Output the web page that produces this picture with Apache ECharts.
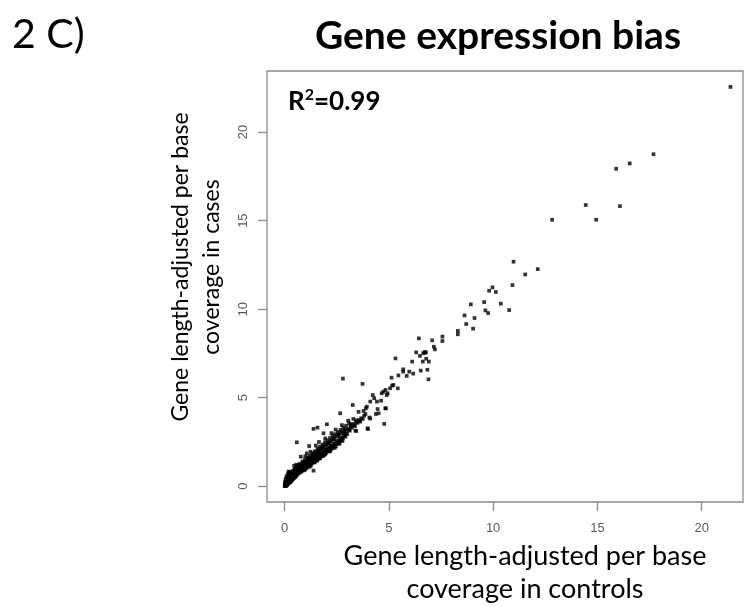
<!DOCTYPE html>
<html>
<head>
<meta charset="utf-8">
<script src="https://cdn.jsdelivr.net/npm/echarts@6/dist/echarts.min.js"></script>
<style>
html,body{margin:0;padding:0;background:#fff;}
#chart{width:744px;height:607px;}
</style>
</head>
<body>
<div id="chart"></div>
<script>
// Tick labels
const xTicks = [0, 5, 10, 15, 20];
const yTicks = [0, 5, 10, 15, 20];

// [coverage in controls, coverage in cases] - dense band near origin
const denseBand = [
[0.01,0.01],[0.02,0.04],[0.04,0.02],[0.03,0.08],[0.06,0.05],[0.08,0.02],[0.05,0.12],[0.07,0.16],[0.09,0.09],[0.02,0.20],
[0.04,0.28],[0.06,0.35],[0.08,0.24],[0.10,0.14],[0.11,0.05],[0.12,0.20],[0.13,0.30],[0.14,0.10],[0.15,0.42],[0.16,0.22],
[0.17,0.15],[0.18,0.34],[0.19,0.52],[0.20,0.26],[0.21,0.18],[0.22,0.38],[0.23,0.62],[0.24,0.30],[0.25,0.22],[0.26,0.46],
[0.27,0.72],[0.28,0.34],[0.29,0.26],[0.30,0.52],[0.31,0.40],[0.32,0.30],[0.33,0.60],[0.34,0.80],[0.35,0.44],[0.36,0.34],
[0.37,0.54],[0.38,0.66],[0.39,0.40],[0.40,0.50],[0.42,0.62],[0.43,0.44],[0.44,0.74],[0.45,0.56],[0.46,0.90],[0.47,0.48],
[0.48,0.66],[0.50,0.58],[0.51,0.78],[0.52,0.52],[0.54,0.68],[0.55,0.96],[0.56,0.60],[0.57,0.84],[0.58,0.72],[0.60,0.64],
[0.61,0.78],[0.62,0.92],[0.64,0.70],[0.65,0.84],[0.66,1.04],[0.67,0.74],[0.68,0.90],[0.70,0.76],[0.71,0.98],[0.72,0.84],
[0.74,0.80],[0.75,0.94],[0.76,1.10],[0.78,0.86],[0.79,1.00],[0.80,0.82],[0.82,0.94],[0.83,1.08],[0.84,0.88],[0.86,1.02],
[0.87,1.20],[0.88,0.92],[0.90,1.06],[0.91,0.96],[0.92,1.14],[0.94,1.00],[0.95,1.26],[0.96,1.10],[0.98,1.04],[1.00,1.18],
[1.01,1.08],[1.02,1.30],[1.04,1.14],[1.05,1.02],[1.06,1.24],[1.08,1.16],[1.10,1.36],[1.11,1.20],[1.12,1.10],[1.14,1.28],
[1.15,1.44],[1.16,1.22],[1.18,1.34],[1.20,1.18],[1.21,1.30],[1.22,1.48],[1.24,1.36],[1.25,1.24],[1.27,1.42],[1.28,1.32],
[1.30,1.56],[1.31,1.40],[1.32,1.30],[1.34,1.48],[1.35,1.38],[1.37,1.62],[1.38,1.46],[1.40,1.36],[1.41,1.54],[1.43,1.44],
[1.44,1.68],[1.46,1.52],[1.47,1.42],[1.49,1.60],[1.50,1.50],[1.52,1.74],[1.53,1.58],[1.55,1.48],[1.56,1.66],[1.58,1.56],
[1.60,1.80],[1.61,1.64],[1.63,1.54],[1.64,1.72],[1.66,1.62],[1.68,1.86],[1.69,1.70],[1.71,1.60],[1.72,1.78],[1.74,1.68],
[1.76,1.92],[1.78,1.76],[1.80,1.70],[1.82,1.86],[1.84,1.78],[1.86,2.00],[1.88,1.84],[1.90,1.78],[1.92,1.94],[1.94,1.88],
[1.96,2.08],[1.98,1.94],[2.00,1.88],[2.03,2.04],[2.05,1.98],[2.08,2.18],[2.10,2.06],[2.13,2.00],[2.15,2.14],[2.18,2.08],
[2.20,2.28],[2.23,2.18],[2.26,2.12],[2.28,2.26],[2.31,2.22],[2.34,2.40],[2.37,2.30],[2.40,2.26],[2.43,2.42],[2.46,2.36],
[2.49,2.54],[2.52,2.46],[2.55,2.40],[2.58,2.58],[2.62,2.52],[2.65,2.70],[2.69,2.62],[2.72,2.58],[2.76,2.76],[2.80,2.70],
[2.84,2.90],[2.88,2.84],[2.92,2.80],[2.96,3.00],[3.00,2.94],[3.04,3.24],[3.08,3.18],[3.13,3.14],[3.18,3.36],[3.23,3.30],
[3.28,3.52],[3.33,3.44],[3.38,3.40],[3.44,3.62],[3.50,3.58],[3.56,3.74],[3.62,3.70],[3.68,3.84],[3.75,3.80],[3.82,3.98],
[3.88,4.08]
];

// upper fringe of the dense band
const bandFringe = [
[0.50,0.98],[0.62,1.14],[0.74,1.28],[0.86,1.40],[0.98,1.52],[1.10,1.62],[1.22,1.74],[1.34,1.86],[1.46,1.98],[1.58,2.12],
[1.70,2.24],[1.82,2.36],[1.94,2.48],[2.06,2.60],[2.18,2.72],[2.30,2.84],[2.42,2.94],[2.55,3.06],[2.68,3.18],[2.82,3.30],
[2.95,3.42],[3.10,3.56],[0.56,1.22],[1.00,1.70],[1.25,1.95],[1.50,2.30],[1.65,2.50],[1.95,2.70],[2.25,3.00],[2.45,3.20],
[2.75,3.45],[3.05,3.70],[3.30,3.80],[0.19,0.83],[0.46,1.15],[0.78,1.67],[1.07,1.86],[1.18,2.27],[1.39,0.88],[2.83,2.99],
[0.40,0.86],[0.68,1.20],[0.92,1.36],[1.16,1.56],[1.40,1.80],[1.62,1.98],[1.88,2.22],[2.12,2.44],[2.36,2.66],[2.60,2.88],
[2.88,3.12],[3.16,3.46],[3.42,3.72],[0.96,0.90],[1.26,1.16],[1.56,1.44],[1.86,1.72],[2.16,1.96],[2.46,2.24],[2.78,2.56]
];

// extra genes filling the densest part of the band
const bandCore = [
[0.06,0.42],[0.10,0.55],[0.14,0.62],[0.18,0.70],[0.24,0.80],[0.30,0.70],[0.36,0.76],[0.42,0.82],[0.48,0.88],[0.54,0.86],
[0.60,0.98],[0.66,0.92],[0.72,1.06],[0.78,1.14],[0.84,1.20],[0.90,1.28],[0.96,1.34],[1.04,1.42],[1.12,1.50],[1.20,1.58],
[1.28,1.66],[1.36,1.72],[1.44,1.82],[1.52,1.90],[1.60,1.96],[1.68,2.06],[1.76,2.12],[1.84,2.20],[1.92,2.28],[2.00,2.36],
[2.08,2.40],[2.16,2.50],[2.24,2.56],[2.32,2.64],[2.40,2.74],[2.50,2.82],[2.58,2.92],[2.66,3.00],[2.74,3.08],[2.90,3.22],
[1.00,0.98],[1.20,1.10],[1.45,1.34],[1.70,1.58],[1.95,1.80],[2.20,2.02],[2.40,2.16],[2.64,2.40]
];

// scattered genes, low range
const lowScatter = [
[0.59,2.48],[1.39,3.24],[1.58,3.31],[2.03,3.50],[1.87,2.99],[2.67,4.12],[3.27,4.59],[3.74,5.78],[2.80,6.08],[3.40,3.14],
[3.43,3.12],[3.63,3.65],[3.95,4.49],[4.43,4.78],[3.79,4.25],[4.11,4.78],[4.23,5.15],[4.30,4.97],[4.46,4.36],[4.38,4.08],
[4.07,3.88],[3.98,3.27],[4.78,3.52],[4.86,4.40],[4.63,4.83],[4.66,5.25],[4.74,5.34],[4.84,5.44],[4.90,5.15],[4.94,5.25],
[5.06,5.53],[5.16,5.68],[5.22,5.72],[5.43,5.53],[5.13,6.13],[5.46,6.26],[5.32,7.22],[4.00,3.23],[4.11,3.82],[4.51,4.12],
[4.83,4.40],[3.55,4.20],[3.90,4.40]
];

// scattered genes, middle range
const midScatter = [
[5.69,6.60],[5.69,6.47],[5.86,6.23],[5.98,6.47],[6.17,6.36],[6.12,7.04],[6.31,7.56],[6.44,8.35],[6.49,7.36],[6.53,6.53],
[6.63,7.04],[6.65,7.51],[6.74,7.58],[6.78,7.55],[6.71,7.55],[6.79,7.20],[6.92,7.04],[6.85,6.58],[6.90,6.04],[7.08,8.24],
[7.16,7.88],[7.21,7.73],[7.57,8.45],[7.57,8.20],[8.31,8.77],[8.31,8.58],[8.63,9.65],[8.71,9.16],[9.04,8.90],[9.11,9.50],
[8.93,10.27],[9.57,10.40],[10.37,10.31],[9.63,9.93],[9.76,9.78],[10.77,9.95],[9.81,11.04],[9.97,11.23],[10.13,10.97],[10.93,11.36]
];

// scattered genes, high range
const highScatter = [
[10.98,12.68],[12.14,12.26],[11.54,11.96],[12.83,15.05],[14.94,15.05],[14.44,15.88],[16.08,15.82],[15.90,17.93],[16.55,18.23],[17.69,18.75],
[21.38,22.55]
];

const allPoints = denseBand.concat(bandFringe, bandCore, lowScatter, midScatter, highScatter);

const chart = echarts.init(document.getElementById('chart'), null, {renderer: 'canvas'});
const axisGray = '#8a8a8a';
const labelGray = '#5a5a5a';
const uiFont = 'Lato, "Open Sans", sans-serif';
const tickFont = '"Liberation Sans", Arial, sans-serif';

chart.setOption({
  animation: false,
  backgroundColor: '#ffffff',
  grid: {
    left: 267, top: 71, right: 1, bottom: 105,
    show: true, borderColor: axisGray, borderWidth: 1.3, backgroundColor: 'transparent'
  },
  xAxis: {
    type: 'value', min: -0.84, max: 21.98,
    axisLine: {show: false, onZero: false},
    splitLine: {show: false},
    axisTick: {show: true, inside: false, customValues: xTicks, length: 9, lineStyle: {color: axisGray, width: 1.3}},
    axisLabel: {customValues: xTicks, margin: 20, color: labelGray, fontSize: 13, fontFamily: tickFont}
  },
  yAxis: {
    type: 'value', min: -0.89, max: 23.45,
    axisLine: {show: false, onZero: false},
    splitLine: {show: false},
    axisTick: {show: true, inside: false, customValues: yTicks, length: 9, lineStyle: {color: axisGray, width: 1.3}},
    axisLabel: {customValues: yTicks, rotate: 90, margin: 17, color: labelGray, fontSize: 13, fontFamily: tickFont}
  },
  series: [{
    type: 'scatter',
    data: allPoints,
    symbol: 'rect',
    symbolSize: 3.7,
    itemStyle: {color: '#000000'},
    silent: true
  }],
  graphic: [
    {type: 'text', x: 12, y: 35, style: {text: '2 C)', fontFamily: uiFont, fontSize: 41, fill: '#000', textAlign: 'left', textVerticalAlign: 'middle', align: 'left', verticalAlign: 'middle'}},
    {type: 'text', x: 498, y: 36, style: {text: 'Gene expression bias', fontFamily: uiFont, fontWeight: 'bold', fontSize: 39, fill: '#000', textAlign: 'center', textVerticalAlign: 'middle', align: 'center', verticalAlign: 'middle'}},
    {type: 'text', x: 288, y: 101, style: {
      text: '{r|R}{s|2}{r|=0.99}', fill: '#000', textAlign: 'left', textVerticalAlign: 'middle', align: 'left', verticalAlign: 'middle',
      rich: {
        r: {fontFamily: uiFont, fontWeight: 'bold', fontSize: 26, lineHeight: 28, verticalAlign: 'bottom'},
        s: {fontFamily: uiFont, fontWeight: 'bold', fontSize: 16, lineHeight: 28, verticalAlign: 'top'}
      }
    }},
    {type: 'text', x: 196, y: 267, rotation: Math.PI / 2, style: {
      text: 'Gene length-adjusted per base\ncoverage in cases', fontFamily: uiFont, fontSize: 23, lineHeight: 31, fill: '#000',
      textAlign: 'center', textVerticalAlign: 'middle', align: 'center', verticalAlign: 'middle'}},
    {type: 'text', x: 525, y: 573, style: {
      text: 'Gene length-adjusted per base\ncoverage in controls', fontFamily: uiFont, fontSize: 27, lineHeight: 33, fill: '#000',
      textAlign: 'center', textVerticalAlign: 'middle', align: 'center', verticalAlign: 'middle'}}
  ]
});
</script>
</body>
</html>
